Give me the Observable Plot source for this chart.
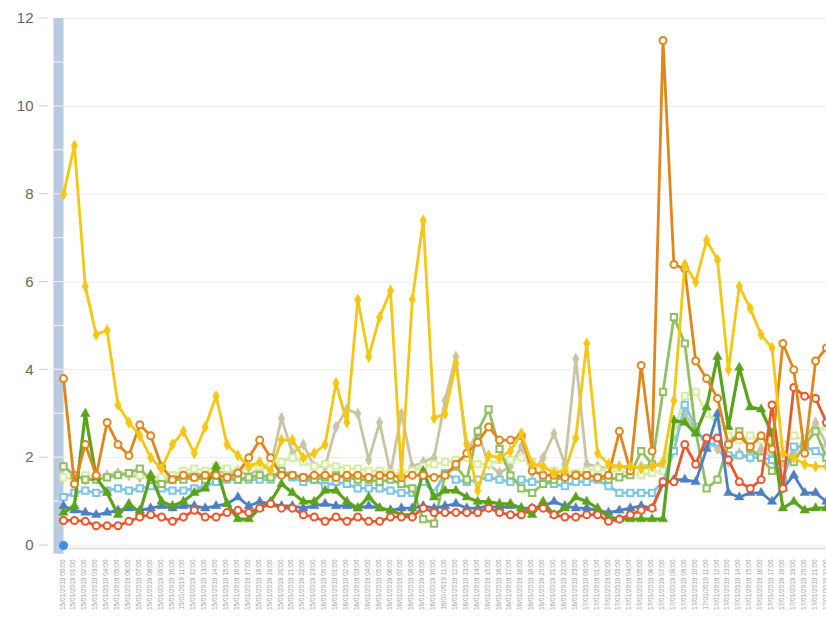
<!DOCTYPE html>
<html><head><meta charset="utf-8">
<script src="https://cdn.jsdelivr.net/npm/d3@7"></script>
<script src="https://cdn.jsdelivr.net/npm/@observablehq/plot@0.6"></script>
<style>body{margin:0;background:#fff;} #chart svg{display:block;overflow:hidden}</style>
</head><body><div id="chart"></div>
<script>
const labels = [
"15/01/2019 00:00","15/01/2019 01:00","15/01/2019 02:00","15/01/2019 03:00","15/01/2019 04:00","15/01/2019 05:00",
"15/01/2019 06:00","15/01/2019 07:00","15/01/2019 08:00","15/01/2019 09:00","15/01/2019 10:00","15/01/2019 11:00",
"15/01/2019 12:00","15/01/2019 13:00","15/01/2019 14:00","15/01/2019 15:00","15/01/2019 16:00","15/01/2019 17:00",
"15/01/2019 18:00","15/01/2019 19:00","15/01/2019 20:00","15/01/2019 21:00","15/01/2019 22:00","15/01/2019 23:00",
"16/01/2019 00:00","16/01/2019 01:00","16/01/2019 02:00","16/01/2019 03:00","16/01/2019 04:00","16/01/2019 05:00",
"16/01/2019 06:00","16/01/2019 07:00","16/01/2019 08:00","16/01/2019 09:00","16/01/2019 10:00","16/01/2019 11:00",
"16/01/2019 12:00","16/01/2019 13:00","16/01/2019 14:00","16/01/2019 15:00","16/01/2019 16:00","16/01/2019 17:00",
"16/01/2019 18:00","16/01/2019 19:00","16/01/2019 20:00","16/01/2019 21:00","16/01/2019 22:00","16/01/2019 23:00",
"17/01/2019 00:00","17/01/2019 01:00","17/01/2019 02:00","17/01/2019 03:00","17/01/2019 04:00","17/01/2019 05:00",
"17/01/2019 06:00","17/01/2019 07:00","17/01/2019 08:00","17/01/2019 09:00","17/01/2019 10:00","17/01/2019 11:00",
"17/01/2019 12:00","17/01/2019 13:00","17/01/2019 14:00","17/01/2019 15:00","17/01/2019 16:00","17/01/2019 17:00",
"17/01/2019 18:00","17/01/2019 19:00","17/01/2019 20:00","17/01/2019 21:00","17/01/2019 22:00"
];
const yTicks = [0, 2, 4, 6, 8, 10, 12];

const sYellow = [8.0,9.1,5.9,4.8,4.9,3.2,2.8,2.5,2.0,1.75,2.3,2.6,2.1,2.7,3.4,2.3,2.05,1.8,1.9,1.7,
2.4,2.4,2.0,2.1,2.3,3.7,2.8,5.6,4.3,5.2,5.8,1.6,5.6,7.4,2.9,3.0,4.15,2.3,1.25,2.05,
2.0,2.15,2.55,1.85,1.8,1.65,1.7,2.45,4.6,2.1,1.85,1.8,1.8,1.75,1.8,1.9,3.3,6.4,6.0,6.95,
6.5,4.0,5.9,5.4,4.8,4.5,2.1,2.0,1.85,1.8,1.8];
const sOrange = [3.8,1.4,2.3,1.6,2.8,2.3,2.05,2.75,2.5,1.8,1.5,1.6,1.55,1.6,1.6,1.55,1.65,2.0,2.4,2.0,
1.6,1.6,1.55,1.6,1.6,1.55,1.6,1.6,1.55,1.6,1.6,1.55,1.6,1.6,1.55,1.6,1.85,2.1,2.35,2.7,
2.4,2.4,2.5,1.7,1.6,1.6,1.55,1.6,1.6,1.55,1.6,2.6,1.7,4.1,2.15,11.5,6.4,6.3,4.2,3.8,
3.35,2.3,2.5,2.25,2.5,2.2,4.6,4.0,2.1,4.2,4.5];
const sGreen = [0.75,0.9,3.0,1.55,1.2,0.7,0.95,0.75,1.6,1.0,0.9,1.0,1.2,1.3,1.8,0.95,0.6,0.6,0.85,1.0,
1.4,1.2,1.0,1.0,1.25,1.25,1.0,0.85,1.1,0.85,0.8,0.7,0.7,1.7,1.1,1.25,1.25,1.1,1.0,1.0,
0.95,0.95,0.85,0.7,1.0,0.7,0.85,1.1,1.0,0.85,0.65,0.6,0.6,0.6,0.6,0.6,2.85,2.8,2.55,3.15,
4.3,2.7,4.05,3.15,3.1,2.55,0.85,1.0,0.8,0.85,0.85];
const sRed = [0.57,0.57,0.55,0.45,0.45,0.45,0.55,0.65,0.7,0.65,0.55,0.65,0.8,0.65,0.65,0.75,0.8,0.75,0.85,0.95,
0.85,0.85,0.7,0.65,0.55,0.65,0.55,0.65,0.55,0.55,0.65,0.65,0.65,0.85,0.75,0.75,0.75,0.75,0.75,0.85,
0.75,0.7,0.7,0.85,0.85,0.7,0.65,0.65,0.7,0.7,0.55,0.6,0.7,0.8,0.85,1.45,1.45,2.3,1.85,2.45,
2.45,1.95,1.45,1.3,1.5,3.2,1.3,3.6,3.4,3.35,2.8];
const sLightBlue = [1.1,1.2,1.25,1.2,1.25,1.3,1.25,1.3,1.35,1.3,1.25,1.25,1.3,1.35,1.45,1.5,1.5,1.5,1.5,1.5,
1.65,1.55,1.45,1.5,1.35,1.45,1.4,1.3,1.3,1.3,1.25,1.2,1.2,1.45,1.2,1.65,1.5,1.45,1.5,1.55,
1.5,1.45,1.5,1.45,1.45,1.4,1.35,1.45,1.45,1.5,1.35,1.2,1.2,1.2,1.2,1.45,2.15,3.2,2.7,2.25,
2.35,2.05,2.05,2.0,2.0,1.95,1.5,2.25,2.25,2.15,2.0];
const sPaleGreen = [1.55,1.5,1.6,1.55,1.55,1.6,1.65,1.6,1.5,1.55,1.6,1.7,1.75,1.7,1.8,1.75,1.7,1.8,1.8,1.85,
1.9,2.0,1.9,1.8,1.85,1.8,1.75,1.75,1.7,1.7,1.65,1.65,1.7,1.8,1.85,1.9,1.95,2.0,1.85,1.85,
1.95,1.95,2.0,1.9,1.75,1.7,1.7,1.65,1.7,1.75,1.7,1.7,1.65,1.6,1.65,1.7,2.6,3.4,3.5,3.0,
2.8,2.5,2.4,2.5,2.4,2.4,2.3,2.5,2.4,2.6,2.7];
const sGray = [1.8,1.6,1.5,1.55,1.6,1.65,1.6,1.55,1.6,1.5,1.55,1.6,1.65,1.6,1.7,1.65,1.7,1.6,1.75,1.8,
2.9,2.1,2.3,1.8,1.8,2.7,3.1,3.0,1.95,2.8,1.65,3.0,1.8,1.9,2.0,3.3,4.3,2.1,2.6,1.85,
1.65,1.8,2.25,1.65,2.0,2.55,1.85,4.25,1.85,1.8,1.75,1.8,1.75,1.8,1.85,1.8,2.5,3.0,2.6,2.4,
2.2,1.9,2.1,2.0,2.2,2.0,1.9,2.1,2.4,2.8,2.3];
const sOlive = [1.8,1.6,1.5,1.5,1.55,1.6,1.65,1.75,1.5,1.4,1.5,1.5,1.55,1.5,1.6,1.55,1.5,1.55,1.6,1.55,
1.7,1.6,1.55,1.5,1.55,1.6,1.55,1.5,1.5,1.45,1.5,1.4,1.3,0.6,0.5,1.6,1.8,1.5,2.6,3.1,
2.2,1.6,1.3,1.2,1.4,1.5,1.55,1.6,1.6,1.55,1.5,1.55,1.6,2.15,1.85,3.5,5.2,4.6,2.6,1.3,
1.5,2.3,2.6,2.2,2.0,1.7,2.0,1.9,2.3,2.6,2.0];
const sSteel = [0.9,0.8,0.75,0.7,0.75,0.8,0.85,0.8,0.85,0.9,0.85,0.9,0.9,0.85,0.9,0.95,1.1,0.9,1.0,0.95,
0.9,0.9,0.85,0.9,0.95,0.9,0.9,0.85,0.9,0.85,0.8,0.85,0.85,0.9,0.85,0.9,0.95,0.85,0.85,0.9,
0.85,0.9,0.85,0.85,0.9,1.0,0.9,0.85,0.85,0.8,0.75,0.8,0.85,0.9,0.85,1.4,1.5,1.5,1.45,2.2,
3.0,1.2,1.1,1.2,1.2,1.0,1.3,1.6,1.2,1.2,1.0];
const handleValue = [0];

// style config (drawing order: first = bottom)
const seriesDefs = [
  {values: sGray,      color: "#c8c5a3", symbol: "diamond",  hollow: false, width: 2.8},
  {values: sPaleGreen, color: "#d8eda4", symbol: "square",   hollow: true,  width: 2.8},
  {values: sLightBlue, color: "#7ec6e6", symbol: "square",   hollow: true,  width: 2.8},
  {values: sOlive,     color: "#92bf5f", symbol: "square",   hollow: true,  width: 2.8},
  {values: sSteel,     color: "#4d80c3", symbol: "triangle", hollow: false, width: 2.8},
  {values: sGreen,     color: "#5ba41a", symbol: "triangle", hollow: false, width: 3.2},
  {values: sRed,       color: "#e8592f", symbol: "circle",   hollow: true,  width: 2.8},
  {values: sOrange,    color: "#e1861b", symbol: "circle",   hollow: true,  width: 2.8},
  {values: sYellow,    color: "#f5c715", symbol: "diamond",  hollow: false, width: 2.8}
];

const marks = [
  Plot.gridY(yTicks, {stroke: "#e9ecf2", strokeOpacity: 1}),
  Plot.ruleY([0], {stroke: "#dfe3ea", strokeWidth: 2, dy: 3}),
  Plot.ruleX([labels[0]], {y1: 12, y2: -0.2, stroke: "#b9cbe0", strokeWidth: 10, dx: -5}),
  Plot.axisY(yTicks, {tickSize: 0, tickPadding: 30, fontSize: 15, fill: "#666", fontFamily: "Liberation Sans, Arial, sans-serif"}),
  Plot.axisX({tickRotate: -90, tickSize: 0, tickPadding: 14, fontSize: 6.5, dx: -1, fill: "#a0a0a0", fontFamily: "Liberation Sans, Arial, sans-serif"})
];
for (const s of seriesDefs) {
  const rows = labels.map((t, i) => ({t, v: s.values[i]}));
  marks.push(Plot.line(rows, {x: "t", y: "v", stroke: s.color, strokeWidth: s.width}));
  marks.push(Plot.dot(rows, {x: "t", y: "v", symbol: s.symbol, r: 3.5,
    fill: s.hollow ? "#fff" : s.color, stroke: s.color, strokeWidth: s.hollow ? 2 : 0.5}));
}
marks.push(Plot.dot(handleValue.map(v => ({t: labels[0], v})), {x: "t", y: "v", r: 4.5, fill: "#3a8fe0"}));

const chart = Plot.plot({
  width: 826, height: 624,
  marginLeft: 63, marginRight: 0, marginTop: 18, marginBottom: 79,
  style: {background: "#fff", fontFamily: "Liberation Sans, Arial, sans-serif"},
  x: {type: "point", domain: labels, padding: 0, label: null, axis: null},
  y: {domain: [0, 12], label: null, axis: null},
  marks
});
document.getElementById("chart").append(chart);

// y tick marks left of the slider bar, and white unit notches on the bar
const ys = chart.scale("y");
const xs = chart.scale("x");
const x0 = xs.apply(labels[0]);
const svg = d3.select(chart);
const deco = svg.insert("g", "g[aria-label='line']");
deco.selectAll("line.tk").data(yTicks).join("line").attr("class", "tk")
  .attr("x1", x0 - 24).attr("x2", x0 - 15).attr("y1", d => ys.apply(d)).attr("y2", d => ys.apply(d))
  .attr("stroke", "#c8ccd4");
deco.selectAll("line.nt").data(d3.range(1, 12)).join("line").attr("class", "nt")
  .attr("x1", x0 - 10).attr("x2", x0).attr("y1", d => ys.apply(d)).attr("y2", d => ys.apply(d))
  .attr("stroke", "#fff").attr("stroke-opacity", 0.8);
</script>
</body></html>
